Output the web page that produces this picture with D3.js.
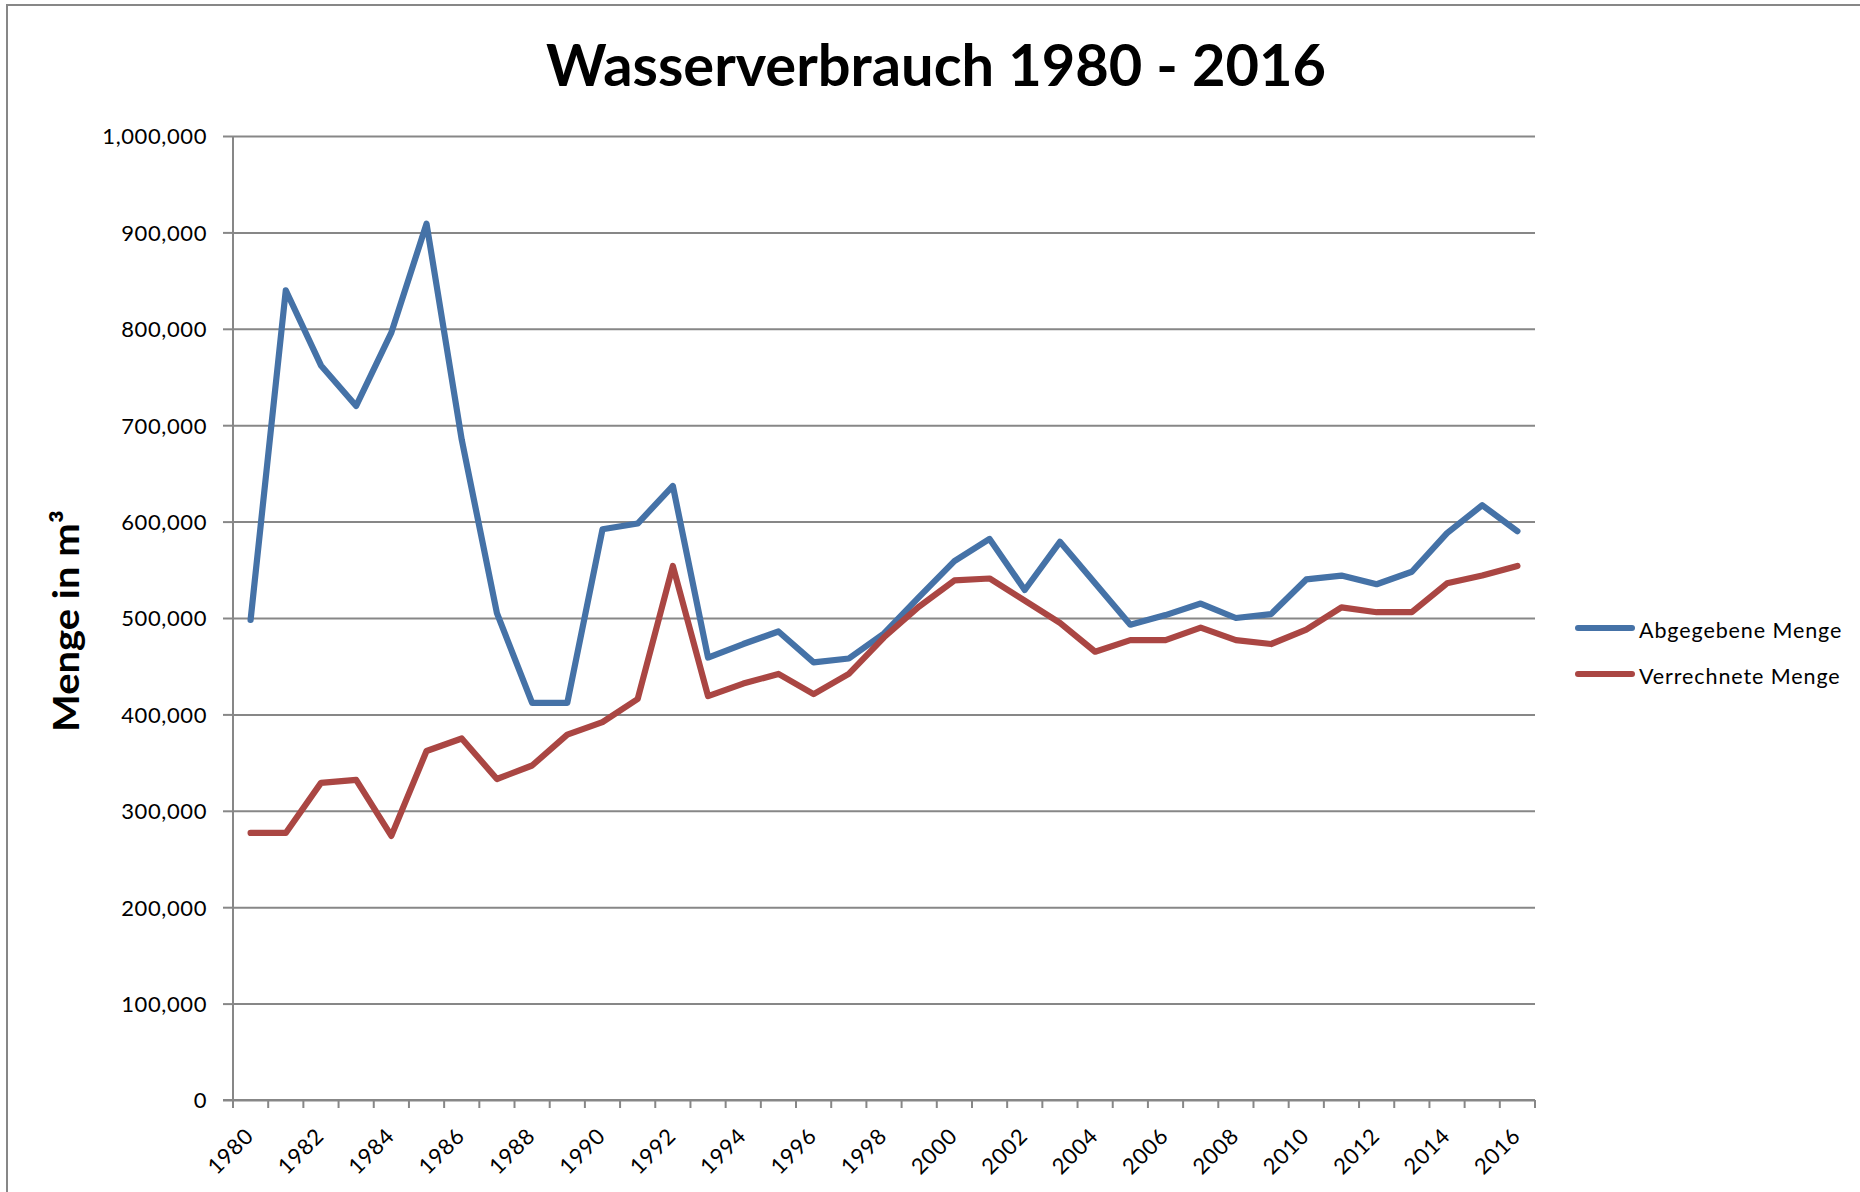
<!DOCTYPE html>
<html>
<head>
<meta charset="utf-8">
<script src="https://cdn.jsdelivr.net/npm/d3@7"></script>
<style>
  html, body { margin: 0; padding: 0; background: #fff; }
  svg { display: block; }
</style>
</head>
<body>
<svg id="chart" width="1860" height="1192"></svg>
<script>
const years = d3.range(1980, 2017);
const abgegebene = [498000, 840000, 762000, 720000, 796000, 909000, 685000, 505000, 412000, 412000,
  592000, 598000, 637000, 459000, 473000, 486000, 454000, 458000, 484000, 522000,
  559000, 582000, 529000, 579000, 536000, 493000, 503000, 515000, 500000, 504000,
  540000, 544000, 535000, 548000, 588000, 617000, 590000];
const verrechnete = [277000, 277000, 329000, 332000, 274000, 362000, 375000, 333000, 347000, 379000,
  392000, 416000, 554000, 419000, 432000, 442000, 421000, 442000, 480000, 512000,
  539000, 541000, 518000, 495000, 465000, 477000, 477000, 490000, 477000, 473000,
  488000, 511000, 506000, 506000, 536000, 544000, 554000];
const seriesNames = ["Abgegebene Menge", "Verrechnete Menge"];
const seriesColors = ["#4572A7", "#AA4643"];
const yTicks = d3.range(0, 1000001, 100000);
const xLabelYears = years.filter((d, i) => i % 2 === 0);
const titleText = "Wasserverbrauch 1980 - 2016";
const yTitle = "Menge in m³";

const svg = d3.select("#chart");
const W = 1860, H = 1192;
const L = 233, R = 1535, T = 136, B = 1100;
const grey = "#878787";
const font = "Lato, 'Open Sans', sans-serif";

svg.append("rect").attr("x", 0).attr("y", 0).attr("width", W).attr("height", H).attr("fill", "#fff");
// outer chart border
svg.append("rect").attr("x", 7).attr("y", 5).attr("width", W + 20).attr("height", H + 20)
  .attr("fill", "none").attr("stroke", grey).attr("stroke-width", 2);

const x = d3.scaleBand().domain(years).range([L, R]).padding(0);
const y = d3.scaleLinear().domain([0, 1000000]).range([B, T]);
const cx = d => x(d) + x.bandwidth() / 2;

// gridlines
svg.append("g").attr("transform", `translate(${L},0)`)
  .call(d3.axisLeft(y).tickValues(yTicks).tickSize(-(R - L)).tickFormat(""))
  .call(g => g.select(".domain").remove())
  .call(g => g.selectAll("line").attr("stroke", grey).attr("stroke-width", 2));

// y axis
const yAxis = svg.append("g").attr("transform", `translate(${L},0)`)
  .call(d3.axisLeft(y).tickValues(yTicks).tickSize(10).tickPadding(16).tickFormat(d3.format(",")));
yAxis.select(".domain").attr("stroke", grey).attr("stroke-width", 2).attr("d", `M0,${T}V${B}`);
yAxis.selectAll("line").attr("stroke", grey).attr("stroke-width", 2);
yAxis.selectAll("text").attr("font-family", font).attr("font-size", 22)
  .attr("letter-spacing", "0.6px").attr("fill", "#000").attr("dy", "0.36em");

// x axis line
const xAxis = svg.append("g").attr("transform", `translate(0,${B})`)
  .call(d3.axisBottom(x).tickValues([]).tickSizeOuter(0));
xAxis.select(".domain").attr("stroke", grey).attr("stroke-width", 2).attr("d", `M${L - 10},0H${R}`);
// boundary ticks
const bounds = years.map(d => x(d)).concat([R]);
xAxis.selectAll("line.bt").data(bounds).join("line").attr("class", "bt")
  .attr("x1", d => d).attr("x2", d => d).attr("y1", 0).attr("y2", 8)
  .attr("stroke", grey).attr("stroke-width", 2);
// x labels
svg.append("g").selectAll("text").data(xLabelYears).join("text")
  .attr("transform", d => `translate(${cx(d) - 1},${B + 32}) rotate(-45)`)
  .attr("text-anchor", "end").attr("dy", "0.35em")
  .attr("font-family", font).attr("font-size", 22).attr("letter-spacing", "0.8px")
  .attr("fill", "#000").text(d => d);

// lines
const line = d3.line().x((d, i) => cx(years[i])).y(d => y(d));
[abgegebene, verrechnete].forEach((s, k) => {
  svg.append("path").datum(s).attr("d", line).attr("fill", "none")
    .attr("stroke", seriesColors[k]).attr("stroke-width", 6.2)
    .attr("stroke-linejoin", "round").attr("stroke-linecap", "round");
});

// title
svg.append("text").attr("x", 936).attr("y", 86).attr("text-anchor", "middle")
  .attr("font-family", font).attr("font-weight", "bold").attr("font-size", 57)
  .attr("textLength", 780).attr("lengthAdjust", "spacingAndGlyphs")
  .attr("fill", "#000").text(titleText);

// y title
svg.append("text").attr("transform", `translate(79,${(T + B) / 2 + 3}) rotate(-90)`)
  .attr("text-anchor", "middle").attr("font-family", font).attr("font-weight", "bold")
  .attr("font-size", 36).attr("textLength", 222).attr("lengthAdjust", "spacingAndGlyphs")
  .attr("fill", "#000").text(yTitle);

// legend
const leg = svg.append("g");
const legY = [628, 674];
seriesNames.forEach((n, k) => {
  leg.append("line").attr("x1", 1578).attr("x2", 1632).attr("y1", legY[k]).attr("y2", legY[k])
    .attr("stroke", seriesColors[k]).attr("stroke-width", 6).attr("stroke-linecap", "round");
  leg.append("text").attr("x", 1639).attr("y", legY[k] + 10)
    .attr("font-family", font).attr("font-size", 21.5).attr("letter-spacing", "0.9px")
    .attr("fill", "#000").text(n);
});
</script>
</body>
</html>
